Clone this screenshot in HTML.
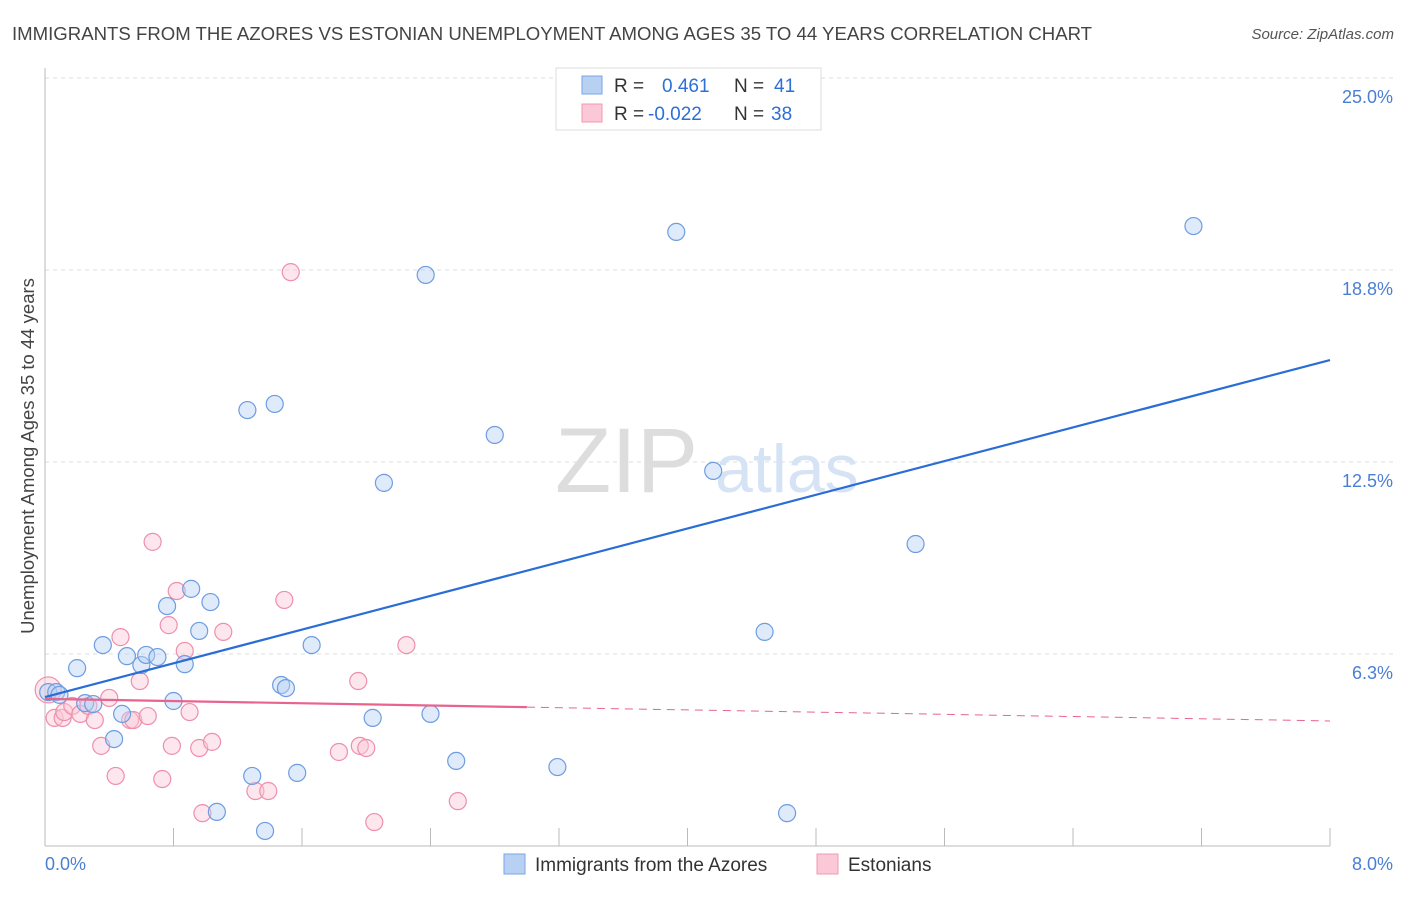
<!DOCTYPE html>
<html><head><meta charset="utf-8"><style>
body{margin:0;background:#fff;font-family:"Liberation Sans",sans-serif}
svg text{font-family:"Liberation Sans",sans-serif}
</style></head><body>
<svg id="c" width="1406" height="892" xmlns="http://www.w3.org/2000/svg">
<text x="12" y="40" font-size="18.6" fill="#444">IMMIGRANTS FROM THE AZORES VS ESTONIAN UNEMPLOYMENT AMONG AGES 35 TO 44 YEARS CORRELATION CHART</text>
<text x="1394" y="39" font-size="15" fill="#555" font-style="italic" text-anchor="end">Source: ZipAtlas.com</text>
<g id="grid"></g>
<text x="555" y="492" font-size="92" fill="#ddd" font-family="Liberation Serif">ZIP</text>
<text x="715" y="492" font-size="68" fill="#d6e3f5">atlas</text>
<text x="34" y="456" font-size="18.5" fill="#444" text-anchor="middle" transform="rotate(-90 34 456)">Unemployment Among Ages 35 to 44 years</text>
<g id="marks"></g>
<g>
<rect x="556" y="68" width="265" height="62" fill="#fff" stroke="#ddd"/>
<rect x="582" y="76" width="20" height="18" fill="#b8d1f3" stroke="#7aa6e6"/>
<rect x="582" y="104" width="20" height="18" fill="#fac8d6" stroke="#f09ab2"/>
<text x="614" y="92" font-size="19" fill="#333">R = </text><text x="662" y="92" font-size="19" fill="#2e6fd6">0.461</text>
<text x="734" y="92" font-size="19" fill="#333">N = </text><text x="774" y="92" font-size="19" fill="#2e6fd6">41</text>
<text x="614" y="120" font-size="19" fill="#333">R = </text><text x="648" y="120" font-size="19" fill="#2e6fd6">-0.022</text>
<text x="734" y="120" font-size="19" fill="#333">N = </text><text x="771" y="120" font-size="19" fill="#2e6fd6">38</text>
</g>
<g>
<rect x="504" y="854" width="21" height="20" fill="#b8d1f3" stroke="#7aa6e6"/>
<text x="535" y="871" font-size="19" fill="#333">Immigrants from the Azores</text>
<rect x="817" y="854" width="21" height="20" fill="#fac8d6" stroke="#f09ab2"/>
<text x="848" y="871" font-size="19" fill="#333">Estonians</text>
</g>
<text x="45" y="870" font-size="18" fill="#4a7fd4">0.0%</text>
<text x="1393" y="870" font-size="18" fill="#4a7fd4" text-anchor="end">8.0%</text>
</svg>
<script>
const blueX=[0.02,0.07,0.09,0.25,0.30,0.20,0.36,0.48,0.43,0.51,0.60,0.63,0.70,0.76,0.80,0.87,0.91,0.96,1.03,1.07,1.26,1.29,1.37,1.43,1.47,1.50,1.57,1.66,2.04,2.11,2.37,2.40,2.56,2.80,3.19,3.93,4.16,4.48,4.62,5.42,7.15];
const blueY=[5.01,5.01,4.92,4.65,4.62,5.79,6.54,4.30,3.48,6.18,5.89,6.22,6.15,7.81,4.72,5.92,8.37,7.00,7.94,1.11,14.19,2.28,0.49,14.39,5.24,5.14,2.38,6.54,4.17,11.82,18.59,4.30,2.77,13.38,2.57,19.99,12.21,6.97,1.07,9.83,20.18];
const pinkX=[0.02,0.06,0.11,0.12,0.17,0.22,0.27,0.31,0.35,0.40,0.44,0.47,0.53,0.55,0.59,0.64,0.67,0.73,0.77,0.79,0.82,0.87,0.90,0.96,0.98,1.04,1.11,1.31,1.39,1.49,1.53,1.83,1.95,1.96,2.00,2.05,2.25,2.57];
const pinkY=[5.08,4.17,4.17,4.36,4.56,4.30,4.56,4.10,3.26,4.82,2.28,6.80,4.10,4.10,5.37,4.23,9.90,2.18,7.19,3.26,8.30,6.35,4.36,3.19,1.07,3.39,6.97,1.79,1.79,8.01,18.68,3.06,5.37,3.26,3.19,0.78,6.54,1.46];
const blueTrend=[4.85,15.82];
const pinkTrend=[4.79,4.07];
const pinkSolidEnd=3.0;
const yTicks=[6.25,12.5,18.75,25];
const yTickLabels=["6.3%","12.5%","18.8%","25.0%"];
const xTicks=[0,0.8,1.6,2.4,3.2,4.0,4.8,5.6,6.4,7.2,8.0];
const X0=45,X1=1330,Y0=846,Y1=78;
const sx=v=>X0+(v/8)*(X1-X0);
const sy=v=>Y0-(v/25)*(Y0-Y1);
const NS="http://www.w3.org/2000/svg";
const grid=document.getElementById('grid'),marks=document.getElementById('marks');
function mk(t,a,p){const e=document.createElementNS(NS,t);for(const k in a)e.setAttribute(k,a[k]);p.appendChild(e);return e;}
yTicks.forEach((v,i)=>{
const l=mk('line',{x1:X0,x2:1394,y1:sy(v),y2:sy(v),stroke:'#ddd','stroke-dasharray':'4,4'},grid);


const t=mk('text',{x:1393,y:sy(v)+25,'font-size':18,fill:'#4a7fd4','text-anchor':'end'},grid);
t.textContent=yTickLabels[i];


});
const ax=mk('line',{x1:X0,x2:X0,y1:68,y2:Y0,stroke:'#bbb'},grid);


const bx=mk('line',{x1:X0,x2:X1,y1:Y0,y2:Y0,stroke:'#bbb'},grid);


xTicks.slice(1).forEach(v=>{
const t=mk('line',{x1:sx(v),x2:sx(v),y1:828,y2:Y0,stroke:'#bbb'},grid);


});
function dots(xs,ys,fill,stroke,name){
xs.forEach((x,i)=>{
const c=mk('circle',{cx:sx(x),cy:sy(ys[i]),r:(name==='estonians-point'&&i===0)?13:8.5,fill:fill,'fill-opacity':0.45,stroke:stroke,'stroke-width':1.2},marks);


});}
dots(pinkX,pinkY,'#fac8d6','#ee8fab','estonians-point');
dots(blueX,blueY,'#b8d1f3','#6d9de0','azores-point');
const bl=mk('line',{x1:sx(0),y1:sy(blueTrend[0]),x2:sx(8),y2:sy(blueTrend[1]),stroke:'#2a6dd6','stroke-width':2.2},marks);


const pAt=v=>pinkTrend[0]+(pinkTrend[1]-pinkTrend[0])*v/8;
const pl=mk('line',{x1:sx(0),y1:sy(pinkTrend[0]),x2:sx(pinkSolidEnd),y2:sy(pAt(pinkSolidEnd)),stroke:'#e8648f','stroke-width':2.2},marks);


const pd=mk('line',{x1:sx(pinkSolidEnd),y1:sy(pAt(pinkSolidEnd)),x2:sx(8),y2:sy(pinkTrend[1]),stroke:'#e8648f','stroke-width':1,'stroke-dasharray':'8,6'},marks);


</script>
</body></html>
